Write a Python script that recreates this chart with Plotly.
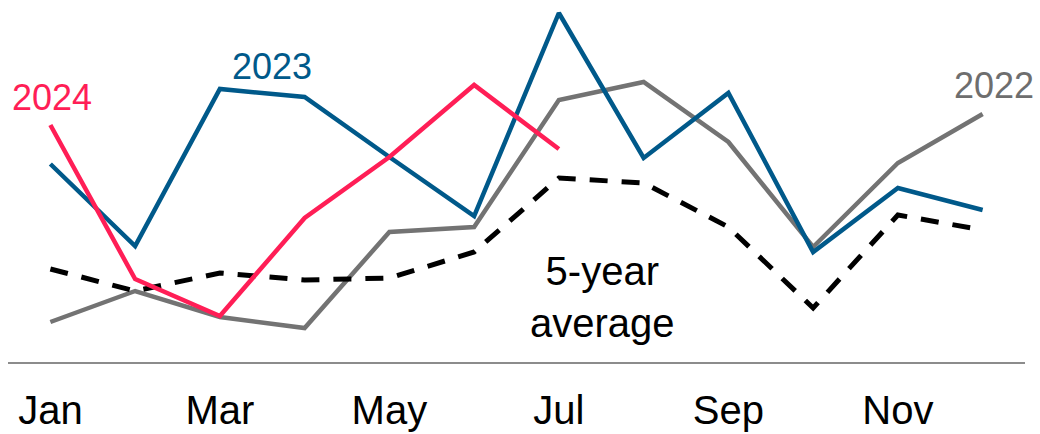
import plotly.graph_objects as go

months = ["Jan", "Feb", "Mar", "Apr", "May", "Jun", "Jul", "Aug", "Sep", "Oct", "Nov", "Dec"]
tick_labels = ["Jan", "", "Mar", "", "May", "", "Jul", "", "Sep", "", "Nov", ""]

y2022 = [4.0, 7.1, 4.5, 3.4, 13.0, 13.5, 26.2, 28.0, 22.0, 11.5, 19.9, 24.8]
y2023 = [19.8, 11.6, 27.3, 26.5, 20.5, 14.6, 34.9, 20.4, 26.9, 11.0, 17.4, 15.2]
y2024 = [23.7, 8.3, 4.6, 14.4, 20.5, 27.7, 21.3]
avg5 = [9.3, 7.1, 8.9, 8.2, 8.4, 11.0, 18.4, 17.9, 13.5, 5.4, 14.7, 13.2]

BLUE = "#00598a"
PINK = "#ff1e56"
GRAY = "#737373"
FONT = "Liberation Sans, Arial, sans-serif"

idx = list(range(len(months)))

fig = go.Figure()
fig.add_trace(go.Scatter(x=idx, y=y2022, mode="lines", line=dict(color=GRAY, width=4.5), hoverinfo="skip"))
fig.add_trace(go.Scatter(x=idx, y=avg5, mode="lines", line=dict(color="black", width=5, dash="18px,14px"), hoverinfo="skip"))
fig.add_trace(go.Scatter(x=idx, y=y2023, mode="lines", line=dict(color=BLUE, width=4.5), hoverinfo="skip"))
fig.add_trace(go.Scatter(x=idx[:len(y2024)], y=y2024, mode="lines", line=dict(color=PINK, width=4.5), hoverinfo="skip"))

annotations = [
    dict(x=0.02, y=26.5, text="2024", font=dict(size=36, color=PINK, family=FONT)),
    dict(x=2.62, y=29.6, text="2023", font=dict(size=36, color=BLUE, family=FONT)),
    dict(x=11.14, y=27.7, text="2022", font=dict(size=36, color="#6e6e6e", family=FONT)),
    dict(x=6.51, y=6.5, text="5-year<br>average", font=dict(size=40, color="black", family=FONT)),
]
for a in annotations:
    a.update(xref="x", yref="y", showarrow=False, xanchor="center", yanchor="middle")

fig.update_layout(
    width=1040, height=434,
    margin=dict(l=8, r=15, t=0, b=72),
    paper_bgcolor="white", plot_bgcolor="white",
    showlegend=False,
    font=dict(family=FONT, size=40, color="black"),
    annotations=annotations,
    xaxis=dict(
        range=[-0.5, 11.5], tickmode="array", tickvals=idx, ticktext=tick_labels,
        showgrid=False, zeroline=False, showline=True, linecolor="#8c8c8c", linewidth=1.5,
        ticks="", ticklabelstandoff=12,
        tickfont=dict(size=40, color="black", family=FONT), fixedrange=True,
    ),
    yaxis=dict(range=[0, 36.2], visible=False, showgrid=False, zeroline=False, fixedrange=True),
)

fig.write_html("out.html")
